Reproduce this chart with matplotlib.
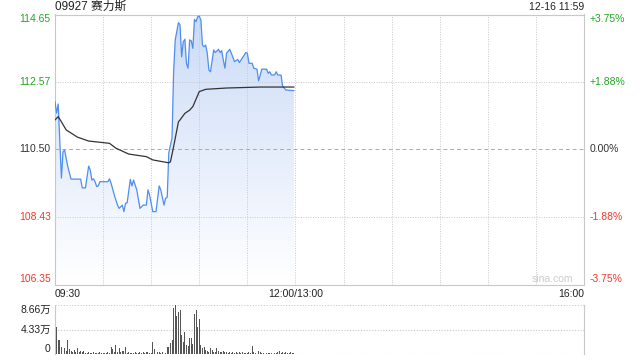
import numpy as np
import matplotlib
matplotlib.use("Agg")
import matplotlib.pyplot as plt
from matplotlib.colors import LinearSegmentedColormap

plt.rcParams['font.family'] = ['Liberation Sans', 'Noto Sans CJK SC', 'DejaVu Sans']

# trading minutes since 09:30 (09:30-12:00 + 13:00-16:00 = 330 min)
price_min = [0, 1, 2, 4, 5, 6, 8, 10, 16, 17, 19, 21, 22, 23, 24, 25, 26, 27, 28,
             33, 34, 35, 37, 39, 40, 42, 43, 44, 45, 47, 48, 49, 51, 53, 55, 57,
             58, 59, 61, 63, 65, 66, 68, 69, 70, 71, 73, 74, 75, 77, 78, 79, 80,
             81, 82, 83, 84, 85, 86, 87, 88, 89, 90, 91, 92, 93, 94, 95, 96, 97,
             99, 100, 102, 103, 104, 105, 106, 107, 109, 110, 112, 114, 115, 116,
             118, 119, 120, 121, 123, 124, 126, 127, 129, 132, 133, 134, 135, 137,
             138, 139, 141, 142, 144, 149]
price = [111.97, 111.62, 111.90, 109.62, 110.43, 110.48, 109.97, 109.59, 109.59,
         109.32, 109.32, 109.99, 109.87, 109.56, 109.60, 109.51, 109.36, 109.38,
         109.51, 109.51, 109.60, 109.46, 109.10, 108.79, 108.69, 108.79, 108.59,
         108.85, 108.86, 109.58, 109.38, 109.56, 109.26, 108.69, 108.79, 108.79,
         109.26, 109.10, 108.59, 108.59, 109.38, 109.26, 108.79, 109.00, 109.03,
         110.40, 110.85, 112.90, 113.87, 114.40, 114.33, 113.35, 113.81, 113.89,
         113.15, 113.00, 113.87, 113.84, 113.61, 114.50, 114.43, 114.58, 114.60,
         114.48, 113.71, 113.66, 113.71, 113.46, 112.94, 112.89, 113.56, 113.48,
         113.58, 113.48, 113.54, 113.25, 113.00, 113.46, 113.58, 113.46, 113.20,
         113.27, 113.17, 113.25, 113.40, 113.48, 113.46, 113.15, 113.15, 113.00,
         112.97, 112.61, 112.97, 112.97, 112.84, 112.89, 112.79, 112.79, 112.89,
         112.79, 112.79, 112.45, 112.33, 112.31]

avg_min = [0, 2, 4, 7, 14, 21, 34, 38, 46, 57, 61, 71, 72, 74, 77, 78, 81, 84,
           86, 90, 94, 107, 128, 149]
avg_price = [111.41, 111.51, 111.35, 111.10, 110.88, 110.76, 110.69, 110.54,
             110.36, 110.28, 110.18, 110.09, 110.12, 110.59, 111.35, 111.41,
             111.61, 111.71, 111.82, 112.28, 112.35, 112.39, 112.42, 112.42]

# volume per minute in 万, minutes 0..149
volume = [8.9, 4.7, 2.5, 2.5, 1.3, 1.2, 1.1, 0.6, 2.5, 0.8,
          0.5, 0.4, 0.7, 0.4, 1.1, 0.3, 0.5, 0.3, 0.5, 0.2,
          0.2, 0.4, 0.1, 0.2, 0.3, 0.1, 0.2, 0.1, 0.4, 0.1,
          0.2, 0.1, 0.2, 0.3, 0.1, 1.2, 0.9, 0.3, 1.6, 0.4,
          1.0, 0.3, 0.5, 0.6, 1.2, 0.2, 0.3, 0.1, 0.2, 0.1,
          0.3, 0.2, 0.1, 0.4, 0.2, 0.3, 0.1, 0.4, 0.3, 0.2,
          0.1, 2.2, 0.8, 0.5, 0.4, 0.3, 0.2, 0.3, 0.2, 0.2,
          1.3, 1.3, 1.9, 2.5, 8.2, 8.9, 6.7, 7.4, 7.7, 3.4,
          2.2, 3.8, 1.6, 1.4, 2.8, 2.8, 1.7, 7.1, 7.7, 4.7,
          6.2, 1.6, 1.0, 1.3, 0.7, 0.5, 0.3, 1.1, 0.7, 0.4,
          0.3, 1.0, 0.5, 0.4, 0.3, 0.5, 0.3, 0.4, 0.2, 0.3,
          0.2, 0.3, 0.2, 0.4, 0.2, 0.3, 0.2, 0.3, 0.2, 0.2,
          0.1, 0.3, 0.2, 1.5, 0.3, 0.2, 0.4, 0.6, 0.3, 0.2,
          0.1, 0.2, 0.1, 0.2, 0.2, 0.1, 0.2, 0.1, 0.2, 0.3,
          0.6, 0.2, 0.4, 0.2, 0.3, 0.1, 0.2, 0.3, 0.2, 0.1]

prev_close = 110.50
price_ticks = [114.65, 112.57, 110.50, 108.43, 106.35]
price_colors = ['#22a722', '#22a722', '#333333', '#f03a2e', '#f03a2e']
pct_labels = ['+3.75%', '+1.88%', '0.00%', '-1.88%', '-3.75%']
vol_ticks = [8.66, 4.33, 0]
vol_labels = ['8.66万', '4.33万', '0']
time_ticks = [0, 150, 330]
time_labels = ['09:30', '12:00/13:00', '16:00']
title = '09927 赛力斯'
stamp = '12-16 11:59'

grid_c = '#c8c8c8'
fs = 7.5

fig = plt.figure(figsize=(6.4, 3.6), dpi=100)
ax = fig.add_axes([55 / 640, 1 - 284.5 / 360, 529 / 640, 270 / 360])
axv = fig.add_axes([55 / 640, 1 - 354 / 360, 529 / 640, 49 / 360])

lo, hi = price_ticks[-1], price_ticks[0]

# gradient area under the price line
poly = ax.fill_between(price_min, price, lo, color='none', lw=0)
cmap = LinearSegmentedColormap.from_list('fade', ['#ffffff', '#cbdbf7'])
grad = np.linspace(1, 0, 256).reshape(-1, 1)
im = ax.imshow(grad, extent=[0, 330, lo, hi], aspect='auto', cmap=cmap,
               vmin=0, vmax=1, origin='upper', zorder=1)
im.set_clip_path(poly.get_paths()[0], transform=ax.transData)

ax.plot(price_min, price, color='#4f8ef0', lw=0.9, zorder=3)
ax.plot(avg_min, avg_price, color='#333333', lw=0.9, zorder=4)

for m in range(30, 330, 30):
    ax.axvline(m, color=grid_c, lw=0.7, ls=(0, (1, 1.5)), zorder=2)
for p in price_ticks[1:-1]:
    if p == prev_close:
        ax.axhline(p, color='#aaaaaa', lw=0.7, ls=(0, (4, 3)), zorder=2)
    else:
        ax.axhline(p, color=grid_c, lw=0.7, ls=(0, (1, 1.5)), zorder=2)

ax.set_xlim(0, 330)
ax.set_ylim(lo, hi)
ax.set_xticks([])
ax.set_yticks([])
for s in ax.spines.values():
    s.set_color(grid_c)
    s.set_linewidth(0.8)

trans = ax.get_yaxis_transform()
for i, (p, c, pl) in enumerate(zip(price_ticks, price_colors, pct_labels)):
    va = 'top' if i == 0 else ('bottom' if i == len(price_ticks) - 1 else 'center')
    ax.text(-0.008, p, f'{p:.2f}', color=c, fontsize=fs, ha='right', va=va, transform=trans)
    ax.text(1.011, p, pl, color=c, fontsize=fs, ha='left', va=va, transform=trans)

for t, lab, ha in zip(time_ticks, time_labels, ['left', 'center', 'right']):
    ax.text(t, -0.018, lab, fontsize=fs, color='#222222', ha=ha, va='top',
            transform=ax.get_xaxis_transform())

ax.text(0, 1.027, title, fontsize=8.5, color='#222222', ha='left', va='center',
        transform=ax.transAxes)
ax.text(1, 1.027, stamp, fontsize=fs, color='#222222', ha='right', va='center',
        transform=ax.transAxes)
ax.text(0.941, 0.02, 'sina.com', fontsize=fs, color='#cccccc', ha='center', va='center',
        transform=ax.transAxes)

# volume panel
axv.bar(np.arange(len(volume)), volume, width=0.6, color='#555555', zorder=3)
for v in vol_ticks:
    axv.axhline(v, color=grid_c, lw=0.8, ls=(0, (1, 1.5)), zorder=1)
axv.set_xlim(0, 330)
axv.set_ylim(0, vol_ticks[0])
axv.set_xticks([])
axv.set_yticks([])
for k, s in axv.spines.items():
    s.set_visible(k in ('left', 'right'))
    s.set_color(grid_c)
    s.set_linewidth(0.8)
vtrans = axv.get_yaxis_transform()
for i, (v, lab) in enumerate(zip(vol_ticks, vol_labels)):
    va = 'top' if i == 0 else ('bottom' if i == len(vol_ticks) - 1 else 'center')
    axv.text(-0.008, v, lab, fontsize=fs, color='#222222', ha='right', va=va, transform=vtrans)

fig.savefig('out.png', dpi=100)
